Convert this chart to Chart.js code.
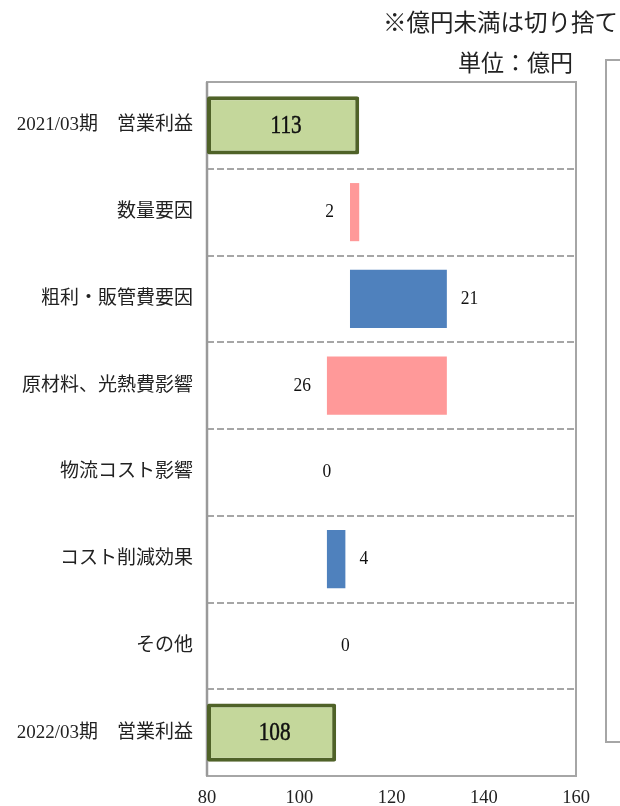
<!DOCTYPE html>
<html lang="ja">
<head>
<meta charset="utf-8">
<title>営業利益 増減要因</title>
<script src="https://cdn.jsdelivr.net/npm/chart.js@4.4.1/dist/chart.umd.min.js"></script>
<style>
  html, body { margin: 0; padding: 0; background: #fff; }
  #wrap { width: 620px; height: 806px; position: relative; }
</style>
</head>
<body>
<div id="wrap"><canvas id="chart"></canvas></div>
<script>
// data
const categories = [
  '2021/03期　営業利益',
  '数量要因',
  '粗利・販管費要因',
  '原材料、光熱費影響',
  '物流コスト影響',
  'コスト削減効果',
  'その他',
  '2022/03期　営業利益'
];
const changes = [113, -2, 21, -26, 0, 4, 0, 108];
const isTotal = [true, false, false, false, false, false, false, true];
const xTicks = [80, 100, 120, 140, 160];
const noteText = '※億円未満は切り捨て';
const unitText = '単位：億円';

// waterfall: turn the changes into floating [start, end] ranges
const ranges = [];
let running = 0;
changes.forEach((v, i) => {
  if (isTotal[i]) {
    ranges.push([xTicks[0], v]);
    running = v;
  } else {
    ranges.push([running + Math.min(v, 0), running + Math.max(v, 0)]);
    running += v;
  }
});

const fillFor = i => isTotal[i] ? '#C4D79B' : (changes[i] < 0 ? '#FF9999' : '#4F81BD');

const numFont = '"Liberation Serif", "Noto Sans CJK JP", serif';
const jpFont = '"Noto Sans CJK JP", sans-serif';

// value labels next to / inside each bar
const valueLabels = {
  id: 'valueLabels',
  afterDatasetsDraw(chart) {
    const ctx = chart.ctx;
    const meta = chart.getDatasetMeta(0);
    meta.data.forEach((bar, i) => {
      const v = changes[i];
      const left = Math.min(bar.x, bar.base);
      const right = Math.max(bar.x, bar.base);
      ctx.save();
      ctx.fillStyle = '#111';
      ctx.strokeStyle = '#111';
      ctx.textBaseline = 'middle';
      ctx.textAlign = 'center';
      if (isTotal[i]) {
        ctx.font = '25px ' + numFont;
        ctx.translate((left + right) / 2 + 3, bar.y + 1);
        ctx.scale(0.85, 1);
        ctx.lineWidth = 0.5;
        ctx.fillText(String(v), 0, 0);
        ctx.strokeText(String(v), 0, 0);
      } else {
        ctx.font = '19px ' + numFont;
        let x = left;
        if (v < 0) { x = left - 16; ctx.textAlign = 'right'; }
        else if (v > 0) { x = right + 14; ctx.textAlign = 'left'; }
        ctx.translate(x, bar.y);
        ctx.scale(0.92, 1);
        ctx.fillText(String(Math.abs(v)), 0, 0);
      }
      ctx.restore();
    });
  }
};

// plot frame, header notes and the clipped box on the right
const frame = {
  id: 'frame',
  beforeDatasetsDraw(chart) {
    const { ctx, chartArea: a } = chart;
    ctx.save();
    ctx.strokeStyle = '#A6A6A6';
    ctx.lineWidth = 2;
    ctx.strokeRect(a.left, a.top, a.right - a.left, a.bottom - a.top);
    ctx.strokeStyle = '#9A9A9A';
    ctx.lineWidth = 2.5;
    ctx.beginPath();
    ctx.moveTo(a.left, a.top);
    ctx.lineTo(a.left, a.bottom);
    ctx.stroke();
    ctx.restore();
  },
  afterDraw(chart) {
    const { ctx, chartArea: a } = chart;
    ctx.save();
    ctx.fillStyle = '#222';
    ctx.textAlign = 'right';
    ctx.textBaseline = 'middle';
    ctx.font = '23.5px ' + jpFont;
    ctx.fillText(noteText, 618, 22);
    ctx.font = '23px ' + jpFont;
    ctx.fillText(unitText, 573, 62);
    ctx.strokeStyle = '#A6A6A6';
    ctx.lineWidth = 2;
    ctx.strokeRect(a.right + 30, 60, 40, a.bottom - 34 - 60);
    ctx.restore();
  }
};

const chart = new Chart(document.getElementById('chart'), {
  type: 'bar',
  data: {
    labels: categories,
    datasets: [{
      data: ranges,
      backgroundColor: changes.map((v, i) => fillFor(i)),
      borderColor: changes.map((v, i) => isTotal[i] ? '#4F6228' : fillFor(i)),
      borderWidth: changes.map((v, i) => isTotal[i] ? 4 : 0),
      borderSkipped: false,
      borderRadius: changes.map((v, i) => isTotal[i] ? 2 : 0),
      categoryPercentage: 1,
      barPercentage: 0.67
    }]
  },
  options: {
    indexAxis: 'y',
    responsive: true,
    maintainAspectRatio: false,
    animation: false,
    layout: { padding: { top: 82, right: 44, left: 0, bottom: 0 } },
    plugins: {
      legend: { display: false },
      tooltip: { enabled: false }
    },
    scales: {
      x: {
        min: xTicks[0],
        max: xTicks[xTicks.length - 1],
        afterBuildTicks(scale) {
          scale.ticks = xTicks.map(v => ({ value: v }));
        },
        afterFit(scale) { scale.height = 30; },
        grid: { display: false, drawTicks: false },
        border: { display: false },
        ticks: {
          padding: 11,
          color: '#222',
          font: { family: numFont, size: 18.5 }
        }
      },
      y: {
        afterFit(scale) { scale.width = 207; },
        grid: {
          offset: true,
          drawTicks: false,
          color: '#A6A6A6',
          lineWidth: 2
        },
        border: { display: false, dash: [7, 3] },
        ticks: {
          padding: 14,
          color: '#222',
          font: { family: numFont, size: 19 }
        }
      }
    }
  },
  plugins: [frame, valueLabels]
});
</script>
</body>
</html>
